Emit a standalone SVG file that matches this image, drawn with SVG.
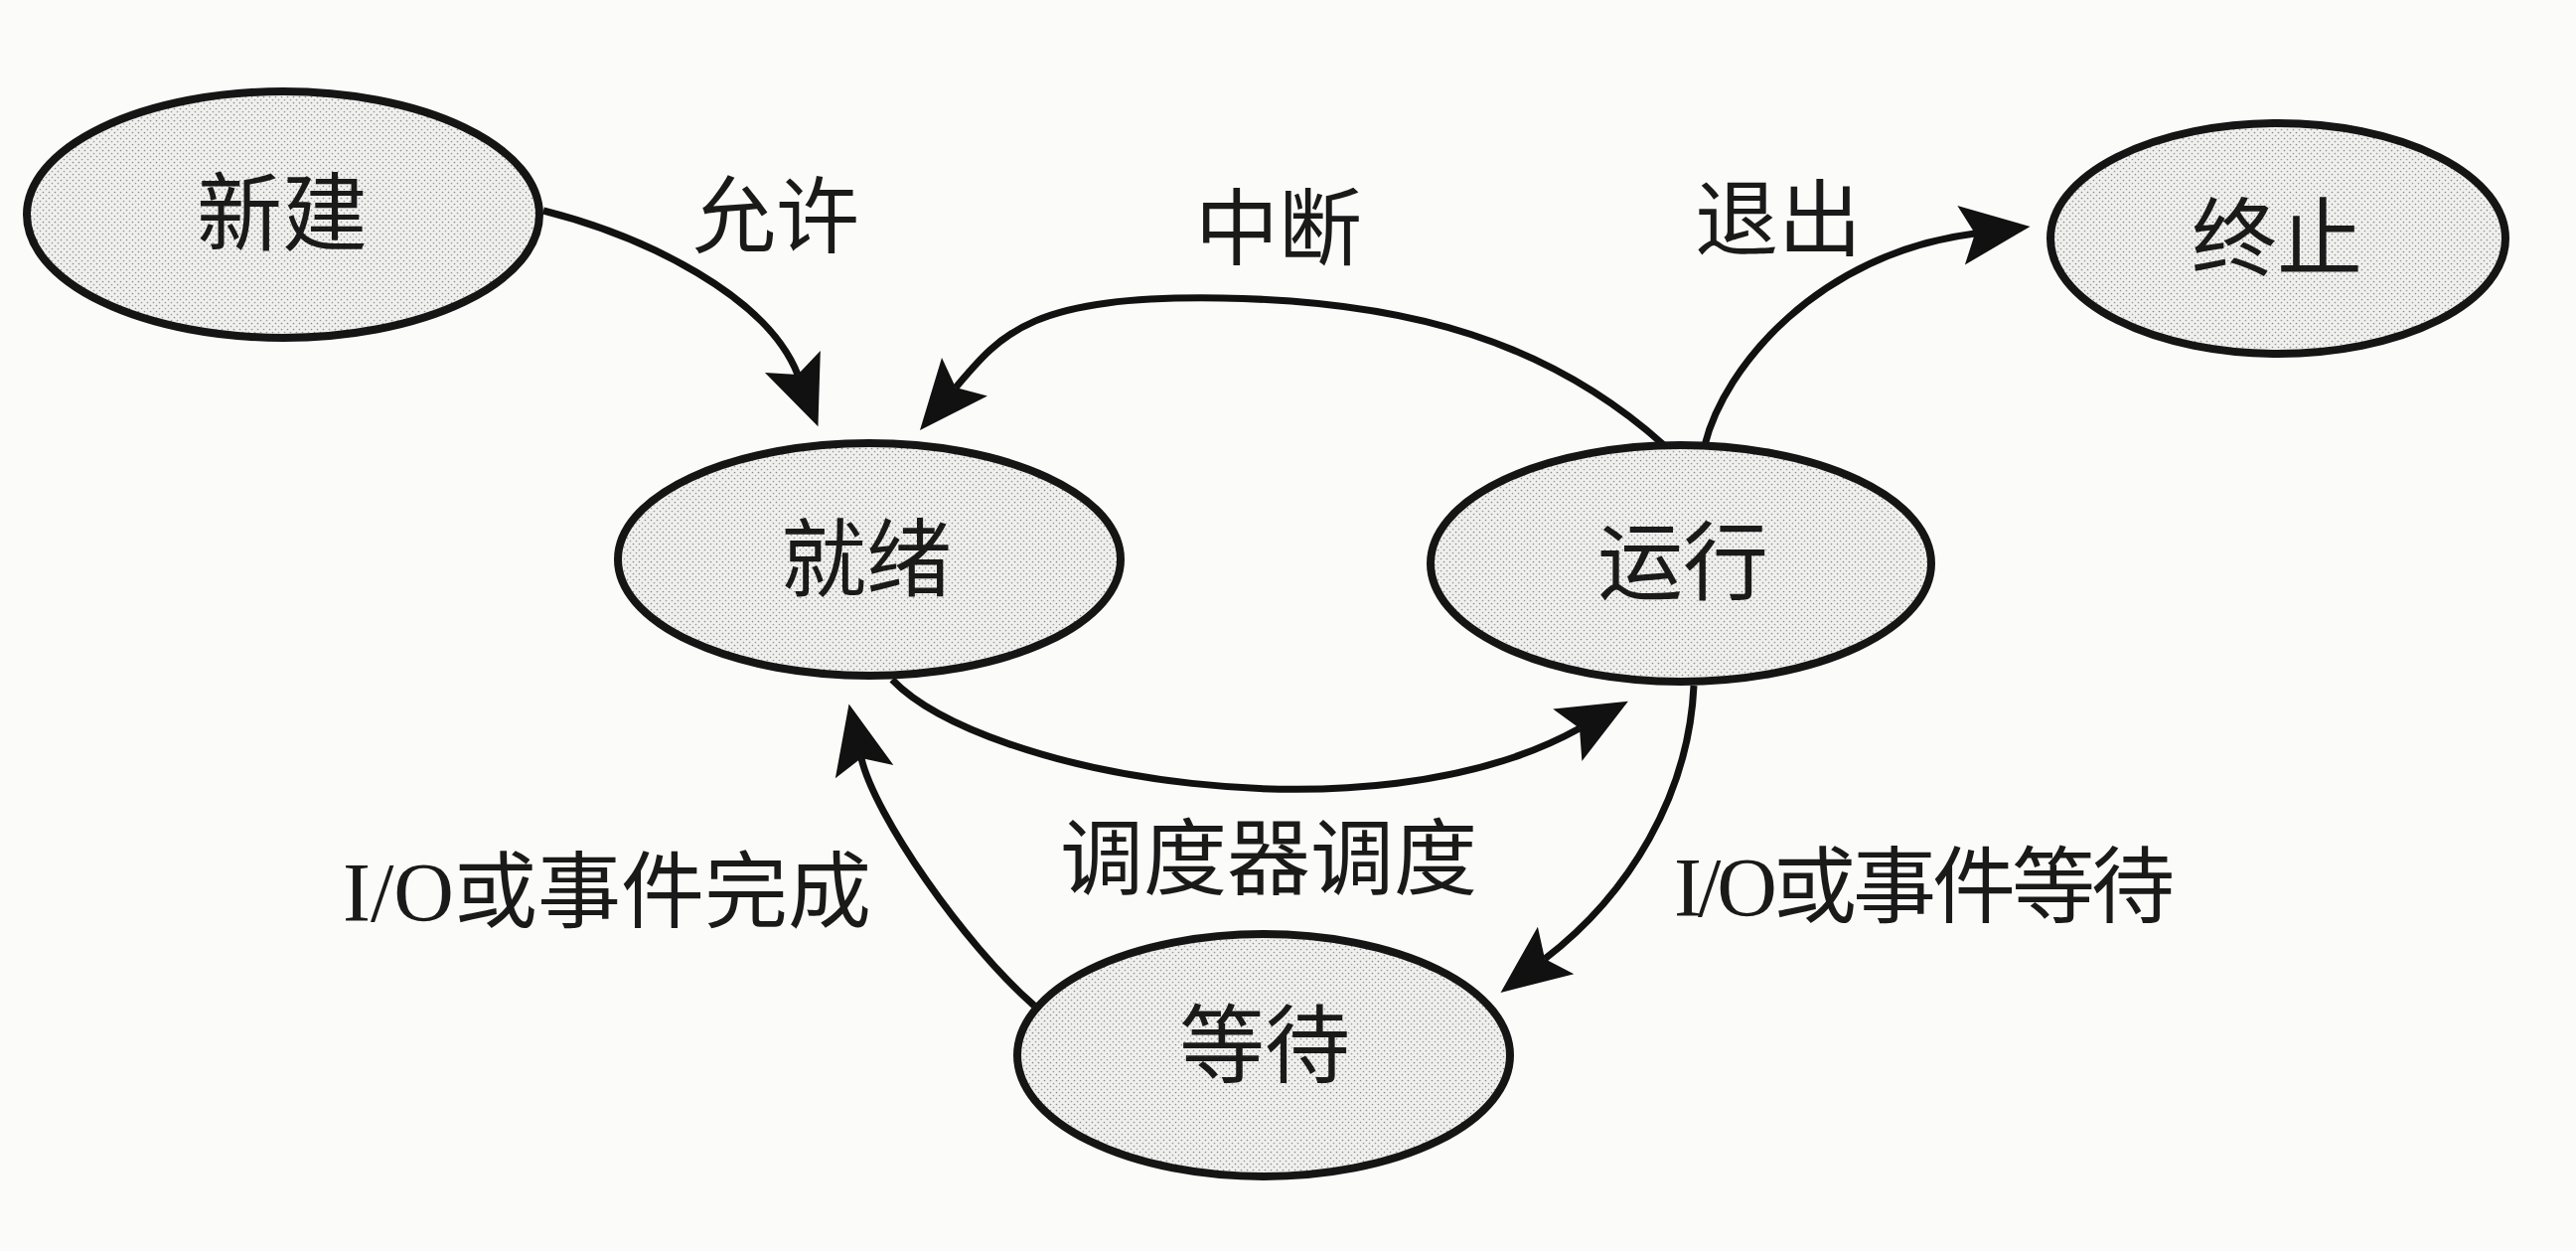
<svg xmlns="http://www.w3.org/2000/svg" width="2593" height="1259" viewBox="0 0 2593 1259">
<defs>
<pattern id="dots" width="6" height="6" patternUnits="userSpaceOnUse">
<rect width="6" height="6" fill="#f0f0ee"/>
<circle cx="1.5" cy="1.5" r="0.85" fill="#8c8c8c"/>
<circle cx="4.5" cy="4.5" r="0.85" fill="#9a9a9a"/>
</pattern>
<marker id="arrow" markerUnits="userSpaceOnUse" viewBox="-16 -32 74 64" markerWidth="74" markerHeight="64" refX="0" refY="0" orient="auto">
<path d="M56,0 L-14,-30 L0,0 L-14,30 Z" fill="#111"/>
</marker>
<style>
.node ellipse{fill:url(#dots);stroke:#151515;stroke-width:8}
.edge{fill:none;stroke:#111;stroke-width:7;marker-end:url(#arrow)}
text{font-family:"Liberation Serif","Noto Sans CJK SC",serif;fill:#1a1a1a;text-anchor:middle}
.nl{font-size:86px}
.el{font-size:84px}
.io{font-size:84px}
</style>
</defs>
<rect width="2593" height="1259" fill="#fbfbf9"/>
<g id="connectors">
<path id="e-allow" class="edge" d="M547,212 C650,238 772,298 803,377"/>
<path id="e-interrupt" class="edge" d="M1675,448 C1560,345 1420,303 1230,300 S1009,334 962,390"/>
<path id="e-exit" class="edge" d="M1716,448 C1735,370 1830,255 1988,235"/>
<path id="e-dispatch" class="edge" d="M898,684 C990,780 1380,850 1590,733"/>
<path id="e-iowait" class="edge" d="M1705,690 C1700,800 1640,900 1555,965"/>
<path id="e-iodone" class="edge" d="M1041,1012 C970,950 880,820 867,763"/>
</g>
<g id="node-new" class="node">
<ellipse cx="285" cy="216" rx="258" ry="124"/>
<text class="nl" x="284" y="246">新建</text>
</g>
<g id="node-ready" class="node">
<ellipse cx="875" cy="563" rx="253" ry="117"/>
<text class="nl" x="872" y="594">就绪</text>
</g>
<g id="node-running" class="node">
<ellipse cx="1692" cy="567" rx="252" ry="119"/>
<text class="nl" x="1694" y="597">运行</text>
</g>
<g id="node-terminated" class="node">
<ellipse cx="2293" cy="240" rx="229" ry="116"/>
<text class="nl" x="2292" y="271">终止</text>
</g>
<g id="node-waiting" class="node">
<ellipse cx="1272" cy="1062" rx="248" ry="122"/>
<text class="nl" x="1273" y="1083">等待</text>
</g>
<g id="labels">
<text class="el" x="781" y="248">允许</text>
<text class="el" x="1287" y="260">中断</text>
<text class="el" x="1790" y="251">退出</text>
<text class="el" x="1277" y="894">调度器调度</text>
<text class="io" x="611" y="927">I/O或事件完成</text>
<text class="io" x="1935" y="922" letter-spacing="-4">I/O或事件等待</text>
</g>
</svg>
